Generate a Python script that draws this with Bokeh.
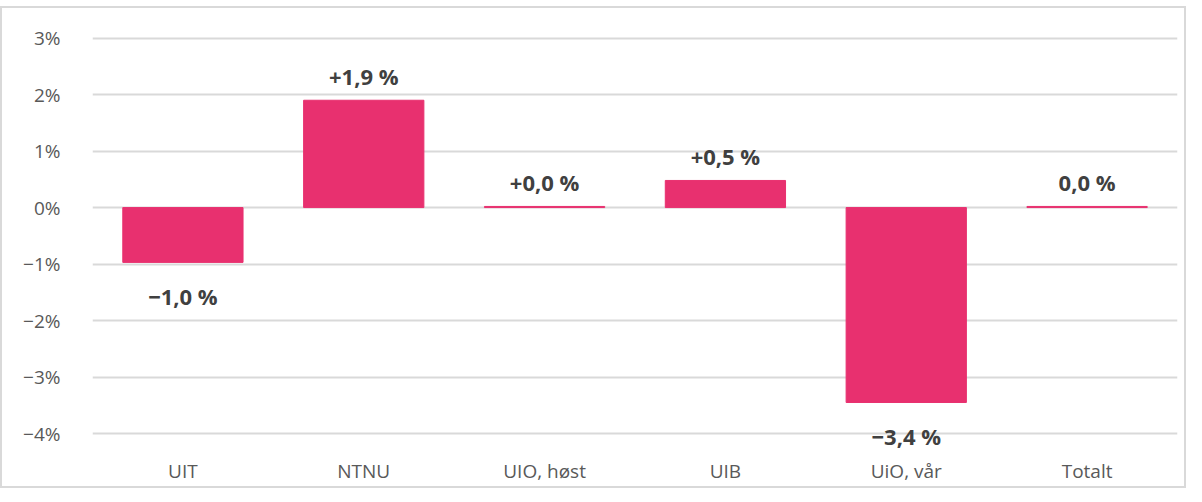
from bokeh.plotting import figure
from bokeh.models import ColumnDataSource, FixedTicker
from bokeh.core.properties import value
from bokeh.embed import file_html
from bokeh.resources import INLINE

categories = ["UIT", "NTNU", "UIO, høst", "UIB", "UiO, vår", "Totalt"]
values = [-0.97, 1.90, 0.02, 0.48, -3.45, 0.02]
labels = ["−1,0 %", "+1,9 %", "+0,0 %", "+0,5 %", "−3,4 %", "0,0 %"]
y_ticks = [-4, -3, -2, -1, 0, 1, 2, 3]
y_tick_labels = ["−4%", "−3%", "−2%", "−1%", "0%", "1%", "2%", "3%"]

FONT = "Open Sans"
offsets = [34 if v < 0 else -24 for v in values]
src = ColumnDataSource(dict(cat=categories, val=values, lab=labels, off=offsets))

p = figure(x_range=categories, y_range=(-4.3, 3.4),
           frame_width=1085, frame_height=435,
           output_backend="svg", toolbar_location=None,
           min_border_left=90, min_border_right=7, min_border_top=7, min_border_bottom=34)
p.styles = {"border": "2px solid #d9d9d9", "margin-top": "6px"}
p.outline_line_color = None
p.background_fill_color = "white"
p.border_fill_color = "white"

p.vbar(x="cat", top="val", bottom=0, width=0.665, color="#E8306F", source=src)
p.text(x="cat", y="val", text="lab", y_offset="off", source=src,
       text_align="center", text_baseline="middle",
       text_font=value(FONT), text_font_style="bold", text_font_size="22px",
       text_color="#404040")

p.yaxis.ticker = FixedTicker(ticks=y_ticks)
p.yaxis.major_label_overrides = {t: l for t, l in zip(y_ticks, y_tick_labels)}
for ax in (p.xaxis, p.yaxis):
    ax.axis_line_color = None
    ax.major_tick_line_color = None
    ax.minor_tick_line_color = None
    ax.major_label_text_font = FONT
    ax.major_label_text_font_size = "19px"
    ax.major_label_text_color = "#595959"
p.yaxis.major_label_standoff = 26
p.xaxis.major_label_standoff = 1

p.xgrid.grid_line_color = None
p.ygrid.grid_line_color = "#d9d9d9"
p.ygrid.grid_line_width = 2
p.ygrid.ticker = FixedTicker(ticks=y_ticks)

open("out.html", "w").write(file_html(p, INLINE))
